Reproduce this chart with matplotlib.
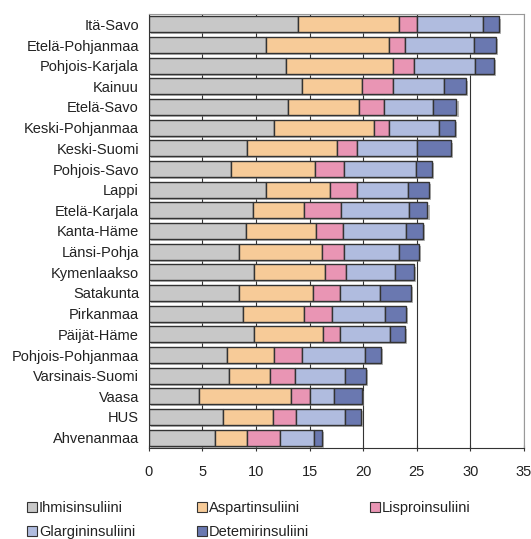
import matplotlib
matplotlib.use('Agg')
import matplotlib.pyplot as plt
import matplotlib.patheffects as pe
import numpy as np

regions = ['Itä-Savo', 'Etelä-Pohjanmaa', 'Pohjois-Karjala', 'Kainuu', 'Etelä-Savo',
           'Keski-Pohjanmaa', 'Keski-Suomi', 'Pohjois-Savo', 'Lappi', 'Etelä-Karjala',
           'Kanta-Häme', 'Länsi-Pohja', 'Kymenlaakso', 'Satakunta', 'Pirkanmaa',
           'Päijät-Häme', 'Pohjois-Pohjanmaa', 'Varsinais-Suomi', 'Vaasa', 'HUS',
           'Ahvenanmaa']

ihmis = [13.9, 10.9, 12.8, 14.3, 13.0, 11.7, 9.2, 7.7, 10.9, 9.7, 9.1, 8.4, 9.8, 8.4, 8.8, 9.8, 7.3, 7.5, 4.7, 6.9, 6.2]
aspart = [9.4, 11.5, 10.0, 5.6, 6.6, 9.3, 8.4, 7.8, 6.0, 4.8, 6.5, 7.8, 6.6, 6.9, 5.7, 6.5, 4.4, 3.8, 8.6, 4.7, 3.0]
lispro = [1.7, 1.5, 1.9, 2.9, 2.3, 1.4, 1.8, 2.7, 2.5, 3.4, 2.5, 2.0, 2.0, 2.5, 2.6, 1.5, 2.6, 2.3, 1.7, 2.1, 3.0]
glargin = [6.2, 6.4, 5.7, 4.7, 4.6, 4.7, 5.6, 6.7, 4.8, 6.4, 5.9, 5.1, 4.6, 3.8, 4.9, 4.7, 5.9, 4.7, 2.3, 4.6, 3.2]
detemir = [1.5, 2.1, 1.8, 2.1, 2.2, 1.5, 3.2, 1.5, 1.9, 1.7, 1.6, 1.9, 1.7, 2.9, 2.0, 1.4, 1.5, 2.0, 2.6, 1.5, 0.8]

series = [('Ihmisinsuliini', ihmis, '#c8c8c8'),
          ('Aspartinsuliini', aspart, '#f7cb98'),
          ('Lisproinsuliini', lispro, '#e995b4'),
          ('Glargininsuliini', glargin, '#b0bcdf'),
          ('Detemirinsuliini', detemir, '#6a78b0')]

plt.rcParams['font.family'] = ['Liberation Sans', 'DejaVu Sans']
fs = 10.5

W, H = 531, 539
fig = plt.figure(figsize=(W / 100, H / 100), dpi=100)
ax = fig.add_axes([148.7 / W, 1 - 448 / H, (524 - 148.7) / W, (448 - 14) / H])

y = np.arange(len(regions))
left = np.zeros(len(regions))
shadow = [pe.SimplePatchShadow(offset=(1.5, -1.5), shadow_rgbFace='#888888', alpha=0.6), pe.Normal()]
handles = []
for name, vals, col in series:
    vals = np.array(vals)
    bars = ax.barh(y, vals, left=left, height=0.76, color=col, edgecolor='#333333',
                   linewidth=1.0, label=name, zorder=3)
    for b in bars:
        b.set_path_effects(shadow)
    handles.append(bars)
    left += vals

ax.set_ylim(len(regions) - 0.5, -0.5)
ax.set_xlim(0, 35)
ax.set_xticks(np.arange(0, 36, 5))
ax.set_yticks(y)
ax.set_yticklabels(regions, fontsize=fs, color='#222222')
ax.tick_params(axis='x', labelsize=fs, labelcolor='#222222', direction='inout',
               length=5, pad=10, color='#333333')
ax.tick_params(axis='y', length=0, pad=7)
ax.xaxis.grid(True, color='#333333', linewidth=0.8, zorder=0)
ax.set_axisbelow(True)
for s in ['top', 'right']:
    ax.spines[s].set_color('#999999')
for s in ['left', 'bottom']:
    ax.spines[s].set_color('#333333')

# legend: three columns placed by hand
cols = [([0, 3], 27), ([1, 4], 197), ([2], 370)]
for idx, xpx in cols:
    leg = fig.legend([handles[i] for i in idx], [series[i][0] for i in idx],
                     loc='upper left', bbox_to_anchor=(xpx / W, 1 - 501 / H),
                     frameon=False, fontsize=fs, handlelength=0.68, handleheight=0.68,
                     handletextpad=0.15, labelspacing=0.68, borderaxespad=0, borderpad=0,
                     labelcolor='#222222')
    for h in leg.legend_handles:
        h.set_path_effects([])
        h.set_linewidth(0.8)

fig.savefig('out.png', dpi=100)
